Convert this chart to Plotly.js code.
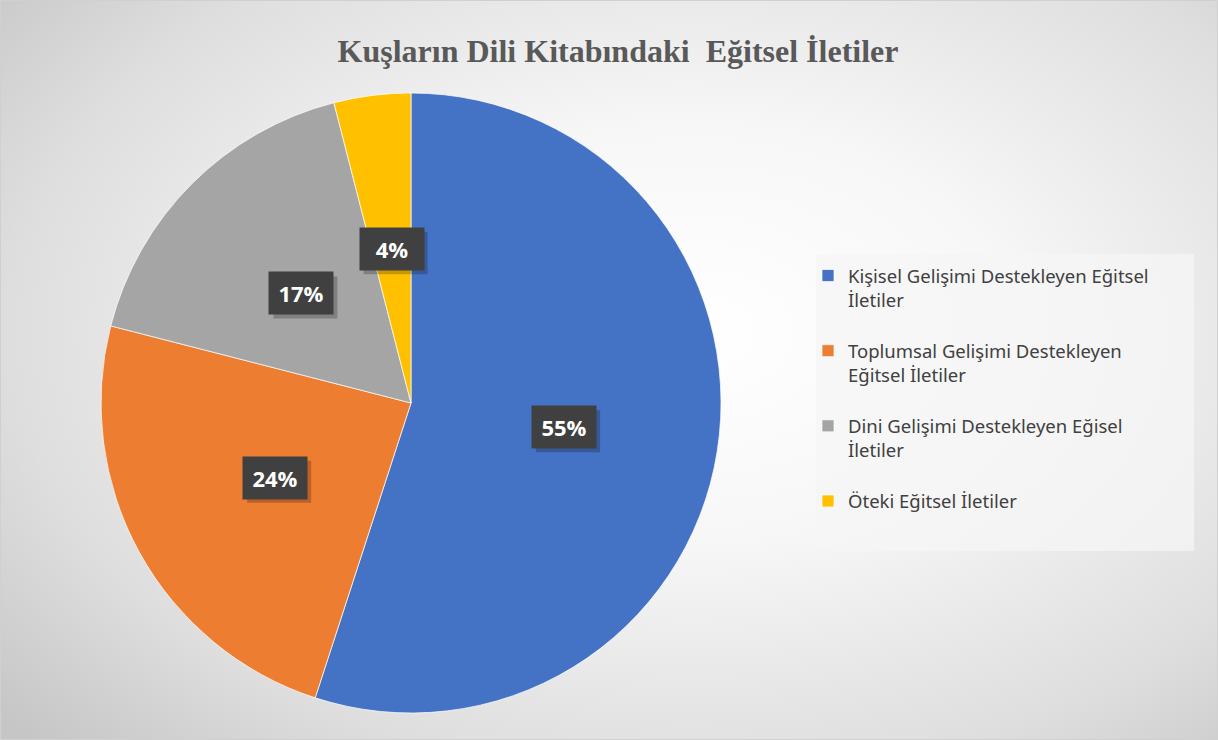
<!DOCTYPE html>
<html>
<head>
<meta charset="utf-8">
<script src="https://cdn.plot.ly/plotly-3.0.1.min.js"></script>
<style>
  html, body { margin: 0; padding: 0; }
  #chart {
    width: 1218px; height: 740px; box-sizing: border-box;
    border: 1px solid #d0d0d0;
    background: radial-gradient(ellipse 75% 80% at 57% 45%, #ffffff 0%, #f7f7f7 35%, #dedede 75%, #c6c6c6 100%);
  }
</style>
</head>
<body>
<div id="chart"></div>
<script>
const categories = [
  "Kişisel Gelişimi Destekleyen Eğitsel<br>İletiler",
  "Toplumsal Gelişimi Destekleyen<br>Eğitsel İletiler",
  "Dini Gelişimi Destekleyen Eğisel<br>İletiler",
  "Öteki Eğitsel İletiler"
];
const values = [55, 24, 17, 4];
const colors = ["#4472C4", "#ED7D31", "#A5A5A5", "#FFC000"];
const titleText = "Kuşların Dili Kitabındaki  Eğitsel İletiler";

const W = 1218, H = 740;
// pie domain (pixels)
const px0 = 100, px1 = 720, py0 = 92, py1 = 712;
const domain = { x: [px0 / W, px1 / W], y: [1 - py1 / H, 1 - py0 / H] };

// label boxes placed at half the radius along each slice's mid angle
const total = values.reduce((a, b) => a + b, 0);
const cx = (px0 + px1) / 2, cy = (py0 + py1) / 2, r = (px1 - px0) / 2;
let cum = 0;
const annotations = [];
const shapes = [{
  type: "rect", xref: "paper", yref: "paper", layer: "below",
  x0: 815 / W, x1: 1193 / W, y0: 1 - 550 / H, y1: 1 - 253 / H,
  fillcolor: "rgba(245,245,245,0.75)", line: { width: 0 }
}];
values.forEach(v => {
  const mid = (cum + v / 2) / total; cum += v;
  const th = 2 * Math.PI * mid;
  const x = (cx + 0.5 * r * Math.sin(th)) / W;
  const y = 1 - (cy - 0.5 * r * Math.cos(th)) / H;
  // soft shadow behind each label box
  shapes.push({
    type: "rect", xref: "paper", yref: "paper", layer: "above",
    xsizemode: "pixel", ysizemode: "pixel", xanchor: x, yanchor: y,
    x0: -28, x1: 36, y0: -25, y1: 17,
    fillcolor: "rgba(0,0,0,0.22)", line: { width: 0 }
  });
  annotations.push({
    x: x, y: y, xref: "paper", yref: "paper",
    xanchor: "center", yanchor: "middle",
    showarrow: false, borderpad: 8, width: 48, height: 26,
    text: "<b>" + Math.round(v / total * 100) + "%</b>", bgcolor: "#404040",
    font: { family: "Open Sans, Noto Sans, sans-serif", size: 22, color: "#ffffff" }
  });
});

// trailing blank line gives the spacing between legend entries
const legendNames = categories.map(c => c + "<br> ");

const data = [{
  type: "pie",
  labels: legendNames,
  values: values,
  sort: false,
  direction: "clockwise",
  rotation: 0,
  domain: domain,
  textinfo: "none",
  hoverinfo: "label+percent",
  marker: { colors: colors, line: { color: "rgba(255,255,255,0.7)", width: 1 } }
}];

const layout = {
  width: W, height: H,
  margin: { l: 0, r: 0, t: 0, b: 0 },
  paper_bgcolor: "rgba(0,0,0,0)",
  plot_bgcolor: "rgba(0,0,0,0)",
  title: {
    text: "<b>" + titleText + "</b>",
    x: 617 / W, xanchor: "center", y: 1 - 50 / H, yanchor: "middle",
    font: { family: "Liberation Serif, Times New Roman, serif", size: 32, color: "#595959" }
  },
  showlegend: true,
  legend: {
    x: 807 / W, xanchor: "left", y: 1 - 256 / H, yanchor: "top",
    bgcolor: "rgba(0,0,0,0)",
    valign: "top",
    font: { family: "Noto Sans, Open Sans, sans-serif", size: 18.5, color: "#404040" },
    traceorder: "normal"
  },
  shapes: shapes,
  annotations: annotations
};

Plotly.newPlot("chart", data, layout, { displayModeBar: false });
</script>
</body>
</html>
